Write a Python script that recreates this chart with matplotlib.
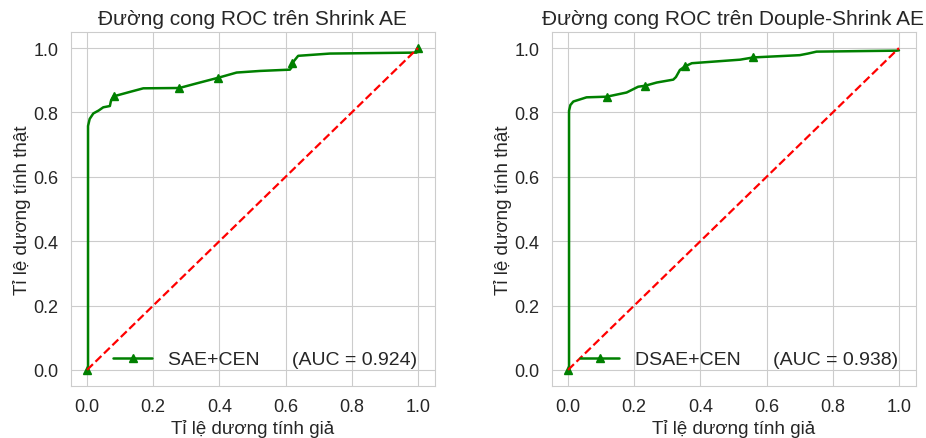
import matplotlib
matplotlib.use("Agg")
import matplotlib.pyplot as plt
import seaborn as sns

sns.set_style("whitegrid")
plt.rcParams['font.family'] = ['Liberation Sans', 'DejaVu Sans']

# Shrink AE ROC curve
sae_fpr = [0.0, 0.003, 0.003, 0.008, 0.019, 0.035, 0.049, 0.069, 0.072, 0.08, 0.13, 0.17, 0.279,
           0.33, 0.397, 0.452, 0.523, 0.613, 0.618, 0.62, 0.638, 0.734, 0.996, 1.0]
sae_tpr = [0.0, 0.0, 0.758, 0.78, 0.797, 0.806, 0.816, 0.82, 0.835, 0.85, 0.864, 0.875, 0.876,
           0.89, 0.908, 0.924, 0.929, 0.933, 0.94, 0.953, 0.976, 0.983, 0.986, 1.0]
sae_marks = [0, 9, 12, 14, 19, 23]
sae_auc = 0.924

# Douple-Shrink AE ROC curve
dsae_fpr = [0.0, 0.003, 0.003, 0.007, 0.016, 0.056, 0.117, 0.177, 0.212, 0.233, 0.268, 0.318,
            0.326, 0.338, 0.353, 0.374, 0.52, 0.56, 0.70, 0.725, 0.751, 0.993, 1.0]
dsae_tpr = [0.0, 0.0, 0.805, 0.823, 0.834, 0.847, 0.849, 0.862, 0.88, 0.883, 0.893, 0.902,
            0.91, 0.932, 0.943, 0.953, 0.964, 0.971, 0.978, 0.983, 0.989, 0.992, 0.993]
dsae_marks = [0, 6, 9, 14, 17]
dsae_auc = 0.938

titles = ["Đường cong ROC trên Shrink AE", "Đường cong ROC trên Douple-Shrink AE"]
names = ["SAE+CEN", "DSAE+CEN"]
xlabel = "Tỉ lệ dương tính giả"
ylabel = "Tỉ lệ dương tính thật"
diag = [0, 1]

fig = plt.figure(figsize=(9.26, 4.39), dpi=100)
W, H = 926, 439
ax1 = fig.add_axes([70.5 / W, 1 - 387 / H, 364 / W, 354 / H])
ax2 = fig.add_axes([551.5 / W, 1 - 387 / H, 364 / W, 354 / H])
axes = [ax1, ax2]

data = [(sae_fpr, sae_tpr, sae_marks, sae_auc), (dsae_fpr, dsae_tpr, dsae_marks, dsae_auc)]
for ax, (fpr, tpr, marks, auc), title, name in zip(axes, data, titles, names):
    ax.plot(fpr, tpr, color='green', lw=1.8, marker='^', markersize=6, markevery=marks,
            label=f"{name}      (AUC = {auc:.3f})")
    ax.plot(diag, diag, 'r--', lw=1.6)
    ax.set_title(title, fontsize=15, color='#262626', pad=6)
    ax.set_xlabel(xlabel, fontsize=13.5, labelpad=3)
    ax.set_ylabel(ylabel, fontsize=13.5, labelpad=2)
    ax.tick_params(labelsize=13, pad=5)
    ax.set_xticks([0, 0.2, 0.4, 0.6, 0.8, 1.0])
    ax.set_yticks([0, 0.2, 0.4, 0.6, 0.8, 1.0])
    ax.set_xlim(-0.05, 1.05)
    ax.set_ylim(-0.05, 1.05)
    ax.legend(loc='lower right', fontsize=14, frameon=False)

fig.savefig("out.png", dpi=100)
